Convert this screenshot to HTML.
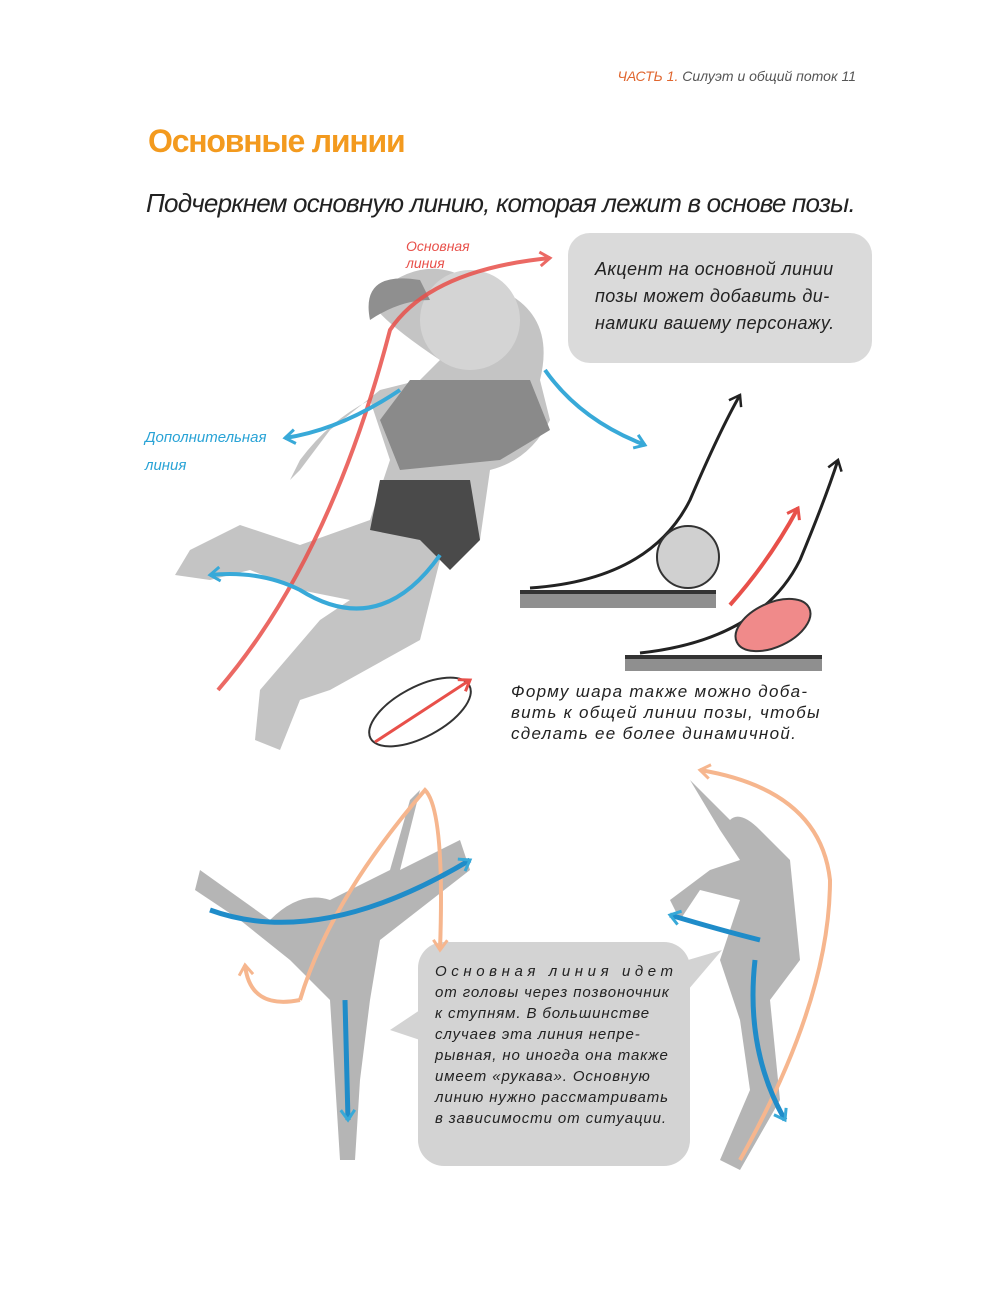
<!DOCTYPE html>
<html><head><meta charset="utf-8">
<style>
html,body{margin:0;padding:0;background:#fff;}
body{width:1000px;height:1312px;position:relative;overflow:hidden;font-family:"Liberation Sans",sans-serif;}
.t{position:absolute;white-space:nowrap;}
</style></head><body>
<svg width="1000" height="1312" style="position:absolute;left:0;top:0">
<defs>
<marker id="ar" markerUnits="userSpaceOnUse" markerWidth="20" markerHeight="20" refX="12" refY="10" orient="auto"><path d="M2,3 L12,10 L2,17" fill="none" stroke="#e8504a" stroke-width="3"/></marker>
<marker id="ab" markerUnits="userSpaceOnUse" markerWidth="20" markerHeight="20" refX="12" refY="10" orient="auto"><path d="M2,3 L12,10 L2,17" fill="none" stroke="#38a9d8" stroke-width="3"/></marker>
<marker id="ak" markerUnits="userSpaceOnUse" markerWidth="20" markerHeight="20" refX="12" refY="10" orient="auto"><path d="M2,3 L12,10 L2,17" fill="none" stroke="#222" stroke-width="2.5"/></marker>
<marker id="ao" markerUnits="userSpaceOnUse" markerWidth="20" markerHeight="20" refX="12" refY="10" orient="auto"><path d="M2,3 L12,10 L2,17" fill="none" stroke="#f6b68e" stroke-width="3"/></marker>
</defs>
<rect x="568" y="233" width="304" height="130" rx="22" fill="#dadada"/>
<!-- girl figure rough -->
<path d="M370,300 Q420,250 470,280 Q560,300 540,380 L550,420 Q530,460 490,470 L480,540 L440,560 L420,640 L330,690 L300,700 L280,750 L255,740 L260,690 L320,620 L350,600 L300,590 L250,570 L210,580 L175,575 L190,550 L240,525 L300,545 L370,520 L390,460 L370,400 Q330,420 300,460 L290,480 L300,470 L330,430 L380,390 L420,380 L440,360 Q380,320 370,300Z" fill="#c4c4c4"/>
<path d="M380,480 L470,480 L480,540 L450,570 L420,540 L370,530Z" fill="#4a4a4a"/>
<path d="M410,380 L530,380 L550,430 L500,460 L400,470 L380,420Z" fill="#8a8a8a"/>
<ellipse cx="470" cy="320" rx="50" ry="50" fill="#d4d4d4"/>
<path d="M420,280 Q360,270 370,320 Q400,300 430,300Z" fill="#8f8f8f"/>
<path d="M218,690 Q330,560 390,330 Q430,270 550,258" fill="none" stroke="#e8504a" stroke-width="4" marker-end="url(#ar)" opacity="0.85"/>
<path d="M400,390 Q340,430 285,438" fill="none" stroke="#38a9d8" stroke-width="4" marker-end="url(#ab)"/>
<path d="M545,370 Q580,420 645,445" fill="none" stroke="#38a9d8" stroke-width="4" marker-end="url(#ab)"/>
<path d="M440,555 Q380,640 300,590 Q260,570 210,575" fill="none" stroke="#38a9d8" stroke-width="4" marker-end="url(#ab)"/>
<ellipse cx="420" cy="712" rx="56" ry="25" transform="rotate(-28 420 712)" fill="none" stroke="#333" stroke-width="2"/>
<path d="M375,742 L470,680" stroke="#e8504a" stroke-width="3" marker-end="url(#ar)"/>
<rect x="520" y="590" width="196" height="18" fill="#8f8f8f"/>
<rect x="520" y="590" width="196" height="4" fill="#333"/>
<path d="M530,588 Q650,580 690,500 Q720,430 740,395" fill="none" stroke="#222" stroke-width="3" marker-end="url(#ak)"/>
<circle cx="688" cy="557" r="31" fill="#d0d0d0" stroke="#333" stroke-width="2"/>
<rect x="625" y="655" width="197" height="16" fill="#8f8f8f"/>
<rect x="625" y="655" width="197" height="4" fill="#333"/>
<path d="M640,653 Q760,640 800,560 Q825,500 838,460" fill="none" stroke="#222" stroke-width="3" marker-end="url(#ak)"/>
<path d="M730,605 Q770,560 798,508" fill="none" stroke="#e8504a" stroke-width="4" marker-end="url(#ar)"/>
<ellipse cx="773" cy="625" rx="40" ry="22" transform="rotate(-25 773 625)" fill="#f08a8a" stroke="#333" stroke-width="2"/>
<rect x="418" y="942" width="272" height="224" rx="26" fill="#d3d3d3"/>
<path d="M420,1010 L390,1030 L420,1040Z" fill="#d3d3d3"/>
<path d="M688,960 L722,950 L688,990Z" fill="#d3d3d3"/>
<path d="M200,870 L270,920 Q300,890 330,900 L390,870 L410,800 L420,790 L400,870 L460,840 L470,870 L380,940 L370,1000 L360,1080 L355,1160 L340,1160 L335,1080 L330,1000 L290,960 L240,920 L195,890Z" fill="#b5b5b5"/>
<path d="M300,1000 Q250,1010 245,965" fill="none" stroke="#f6b68e" stroke-width="4" marker-end="url(#ao)"/>
<path d="M300,1000 Q330,900 425,790 Q445,810 440,950" fill="none" stroke="#f6b68e" stroke-width="4" marker-end="url(#ao)"/>
<path d="M210,910 Q320,950 470,860" fill="none" stroke="#1f8cc9" stroke-width="5" marker-end="url(#ab)"/>
<path d="M345,1000 L348,1120" stroke="#1f8cc9" stroke-width="5" marker-end="url(#ab)"/>
<path d="M690,780 L730,820 Q740,810 760,830 L790,860 L800,960 L770,1000 L780,1100 L740,1170 L720,1160 L750,1090 L740,1020 L720,960 L740,900 L700,890 L680,920 L670,900 L710,870 L740,860 L720,830Z" fill="#b5b5b5"/>
<path d="M740,1160 Q830,1000 830,880 Q820,790 700,770" fill="none" stroke="#f6b68e" stroke-width="4" marker-end="url(#ao)"/>
<path d="M760,940 Q720,930 670,915" fill="none" stroke="#1f8cc9" stroke-width="5" marker-end="url(#ab)"/>
<path d="M755,960 Q745,1050 785,1120" fill="none" stroke="#1f8cc9" stroke-width="5" marker-end="url(#ab)"/>
</svg>

<div class="t" style="right:144px;top:68px;font-size:14px;font-style:italic;color:#555;"><span style="color:#e0662f">ЧАСТЬ 1.</span> Силуэт и общий поток 11</div>
<div class="t" style="left:148px;top:123px;font-size:32px;font-weight:bold;color:#f39a1e;letter-spacing:-1.2px;">Основные линии</div>
<div class="t" style="left:146px;top:188px;font-size:26px;font-style:italic;color:#222;letter-spacing:-0.8px;">Подчеркнем основную линию, которая лежит в основе позы.</div>
<div class="t" style="left:406px;top:238px;font-size:14px;font-style:italic;color:#e8504a;line-height:17px;">Основная<br>линия</div>
<div class="t" style="left:145px;top:424px;font-size:15px;font-style:italic;color:#29a3d6;line-height:28px;">Дополнительная<br>линия</div>
<div class="t" style="left:595px;top:256px;font-size:18px;font-style:italic;color:#222;line-height:27px;letter-spacing:0.4px;">Акцент на основной линии<br>позы может добавить ди-<br>намики вашему персонажу.</div>
<div class="t" style="left:511px;top:681px;font-size:17px;font-style:italic;color:#222;line-height:21px;letter-spacing:1.3px;">Форму шара также можно доба-<br>вить к общей линии позы, чтобы<br>сделать ее более динамичной.</div>
<div class="t" style="left:435px;top:961px;font-size:15px;font-style:italic;color:#222;line-height:21px;letter-spacing:0.9px;"><span style="letter-spacing:4.6px">Основная линия идет</span><br>от головы через позвоночник<br>к ступням. В большинстве<br>случаев эта линия непре-<br>рывная, но иногда она также<br>имеет «рукава». Основную<br>линию нужно рассматривать<br>в зависимости от ситуации.</div>
</body></html>
